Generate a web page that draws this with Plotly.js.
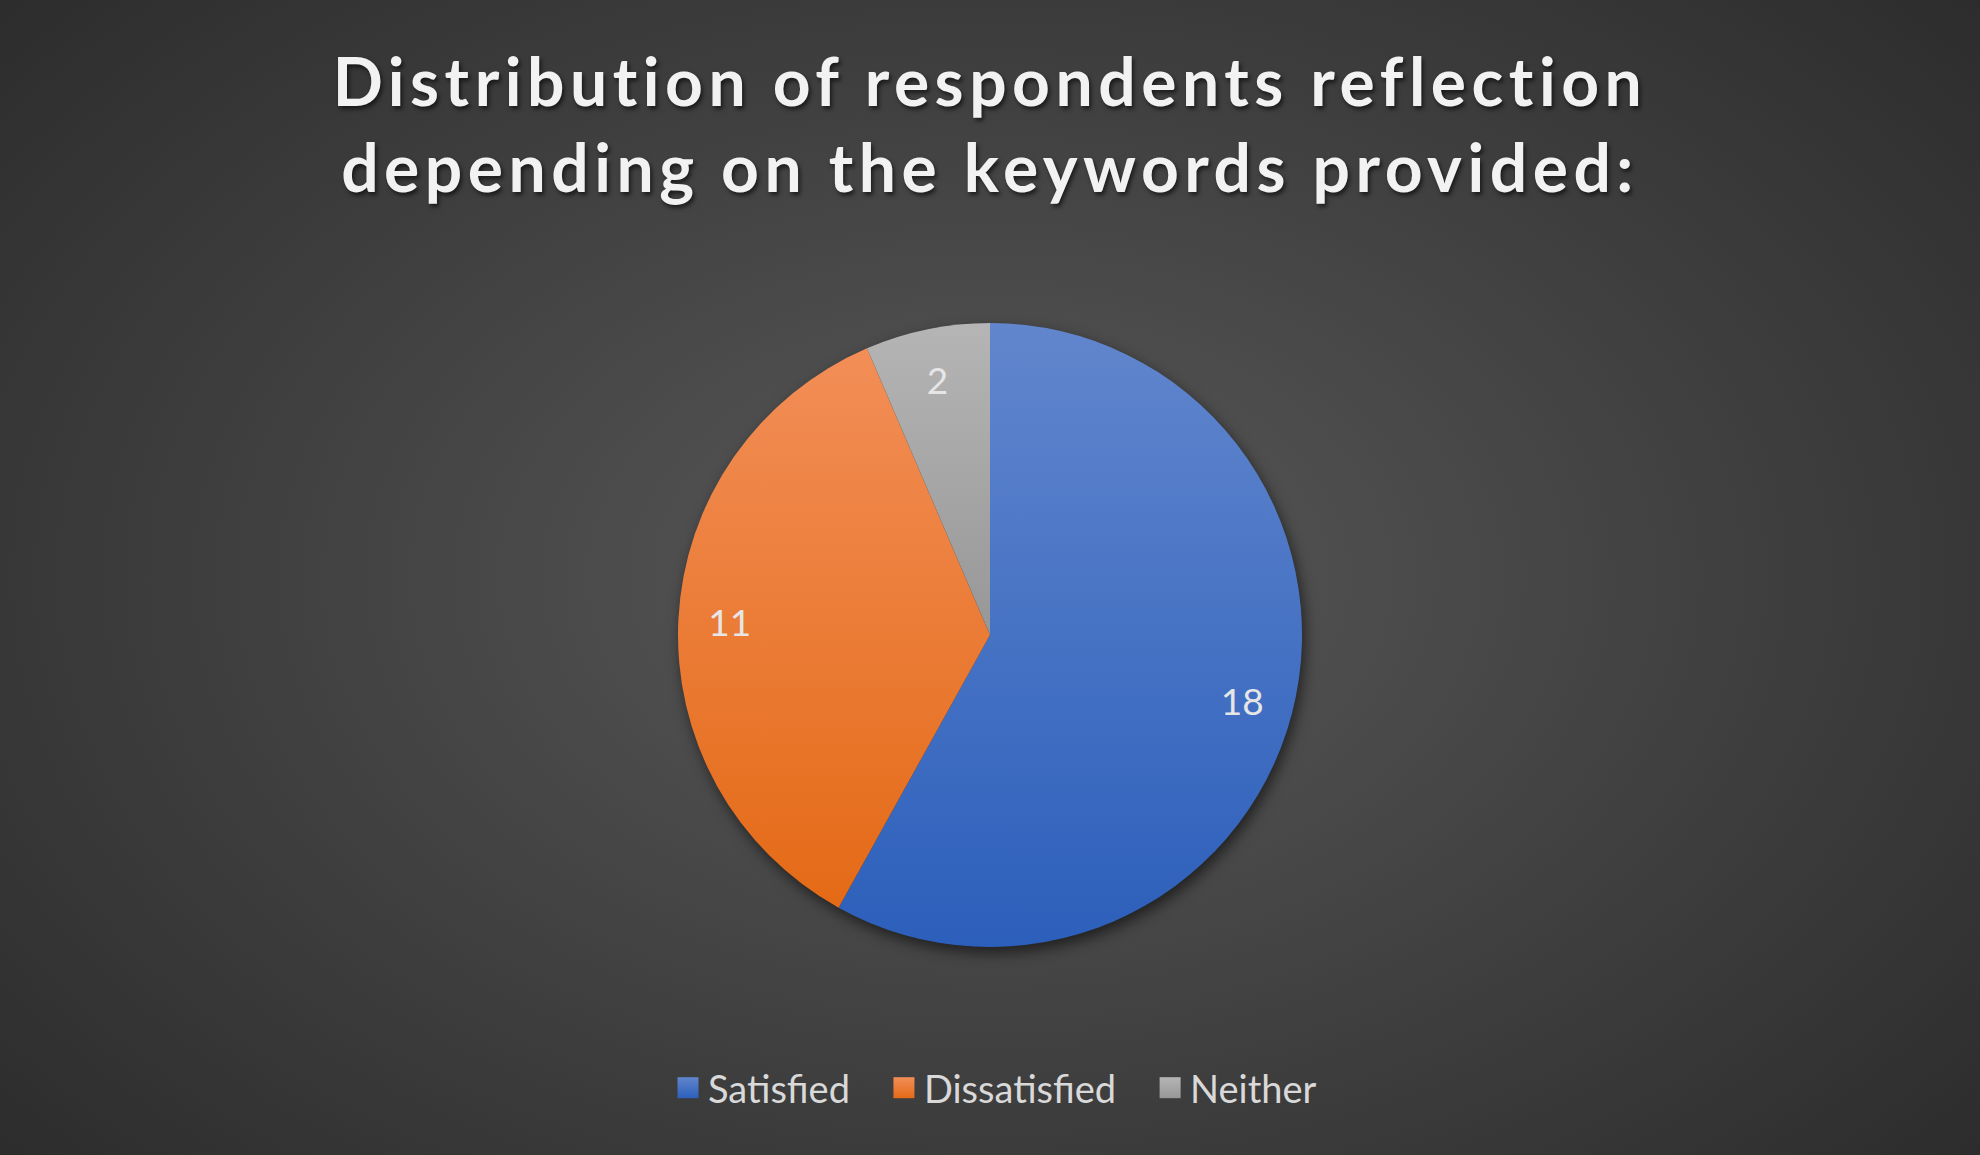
<!DOCTYPE html>
<html>
<head>
<meta charset="utf-8">
<script src="https://cdn.plot.ly/plotly-3.0.1.min.js"></script>
<style>
  html, body { margin:0; padding:0; width:1980px; height:1155px; overflow:hidden; }
  body { background: radial-gradient(ellipse 75% 85% at 50% 50%, #595959 0%, #3d3d3d 55%, #272727 100%); }
  #chart { width:1980px; height:1155px; }
  .gtitle { letter-spacing: 5.5px; }
  .pielayer .trace:first-child { filter: drop-shadow(3px 6px 7px rgba(0,0,0,0.55)); }
</style>
</head>
<body>
<div id="chart"></div>
<script>
const categories = ["Satisfied", "Dissatisfied", "Neither"];
const values = [18, 11, 2];
const colors = ["#4472C4", "#F07E2E", "#A5A5A5"];
const gradTops = ["#6186CD", "#F28E57", "#B5B5B5"];
const gradBottoms = ["#2C5FBB", "#E46A16", "#979797"];
const titleText = "Distribution of respondents reflection<br>depending on the keywords provided:";

const W = 1980, H = 1155;
const cx = 990, cy = 635, R = 312;
const domain = { x: [(cx - R) / W, (cx + R) / W], y: [(H - cy - R) / H, (H - cy + R) / H] };
const labelFont = { family: "Lato, 'Open Sans', sans-serif", size: 37, color: "#e6e6e6" };

// filled pie (no text)
const pieTrace = {
  type: "pie",
  labels: categories,
  values: values,
  sort: false,
  direction: "clockwise",
  rotation: 0,
  marker: { colors: colors, line: { width: 0 } },
  textinfo: "none",
  hoverinfo: "none",
  domain: domain
};

// transparent ring carrying the data labels near the outer edge
const labelTrace = {
  type: "pie",
  labels: categories,
  values: values,
  sort: false,
  direction: "clockwise",
  rotation: 0,
  hole: 0.67,
  marker: { colors: ["rgba(0,0,0,0)", "rgba(0,0,0,0)", "rgba(0,0,0,0)"], line: { width: 0 } },
  textinfo: "value",
  textposition: "inside",
  insidetextorientation: "horizontal",
  textfont: labelFont,
  insidetextfont: labelFont,
  hoverinfo: "none",
  showlegend: false,
  domain: domain
};

const layout = {
  width: W, height: H,
  margin: { l: 0, r: 0, t: 0, b: 0 },
  paper_bgcolor: "rgba(0,0,0,0)",
  plot_bgcolor: "rgba(0,0,0,0)",
  title: {
    text: titleText,
    x: 0.5, xanchor: "center",
    y: 1 - 106 / H, yanchor: "middle",
    font: { family: "Lato, 'Open Sans', sans-serif", size: 66, color: "#f2f2f2", weight: 700,
            shadow: "2px 3px 4px rgba(0,0,0,0.6)" }
  },
  showlegend: true,
  legend: {
    orientation: "h",
    x: 0.5, xanchor: "center",
    y: 67 / H, yanchor: "middle",
    font: { family: "Lato, 'Open Sans', sans-serif", size: 38, color: "#d9d9d9" },
    bgcolor: "rgba(0,0,0,0)",
    itemclick: false, itemdoubleclick: false
  }
};

Plotly.newPlot("chart", [pieTrace, labelTrace], layout, { staticPlot: true }).then(function (gd) {
  const svg = gd.querySelector("svg.main-svg");
  const ns = "http://www.w3.org/2000/svg";
  let defs = svg.querySelector("defs");
  if (!defs) { defs = document.createElementNS(ns, "defs"); svg.insertBefore(defs, svg.firstChild); }
  categories.forEach(function (c, i) {
    const g = document.createElementNS(ns, "linearGradient");
    g.setAttribute("id", "grad" + i);
    g.setAttribute("x1", "0"); g.setAttribute("y1", "0");
    g.setAttribute("x2", "0"); g.setAttribute("y2", "1");
    const s1 = document.createElementNS(ns, "stop");
    s1.setAttribute("offset", "0"); s1.setAttribute("stop-color", gradTops[i]);
    const s2 = document.createElementNS(ns, "stop");
    s2.setAttribute("offset", "1"); s2.setAttribute("stop-color", gradBottoms[i]);
    g.appendChild(s1); g.appendChild(s2); defs.appendChild(g);
  });
  const firstTrace = gd.querySelector(".pielayer .trace");
  firstTrace.querySelectorAll(".slice path.surface").forEach(function (p, i) {
    p.style.fill = "url(#grad" + i + ")";
  });
  // remove legend clipping so widened spacing is not cut
  gd.querySelectorAll(".legend [clip-path]").forEach(function (el) { el.removeAttribute("clip-path"); });
  const items = gd.querySelectorAll(".legend .traces");
  const extra = 29, shift = 5;
  items.forEach(function (it, i) {
    const p = it.querySelector(".legendpoints path");
    if (p) {
      p.setAttribute("d", "M10.5,10.5V-10.5H-10.5V10.5Z");
      p.style.fill = "url(#grad" + i + ")";
    }
    const tr = it.getAttribute("transform") || "";
    const m = tr.match(/translate\(\s*([-\d.]+)[ ,]+([-\d.]+)\s*\)/);
    if (m) {
      const nx = parseFloat(m[1]) + (i - (items.length - 1) / 2) * extra + shift;
      it.setAttribute("transform", "translate(" + nx + "," + m[2] + ")");
    }
  });
});
</script>
</body>
</html>
